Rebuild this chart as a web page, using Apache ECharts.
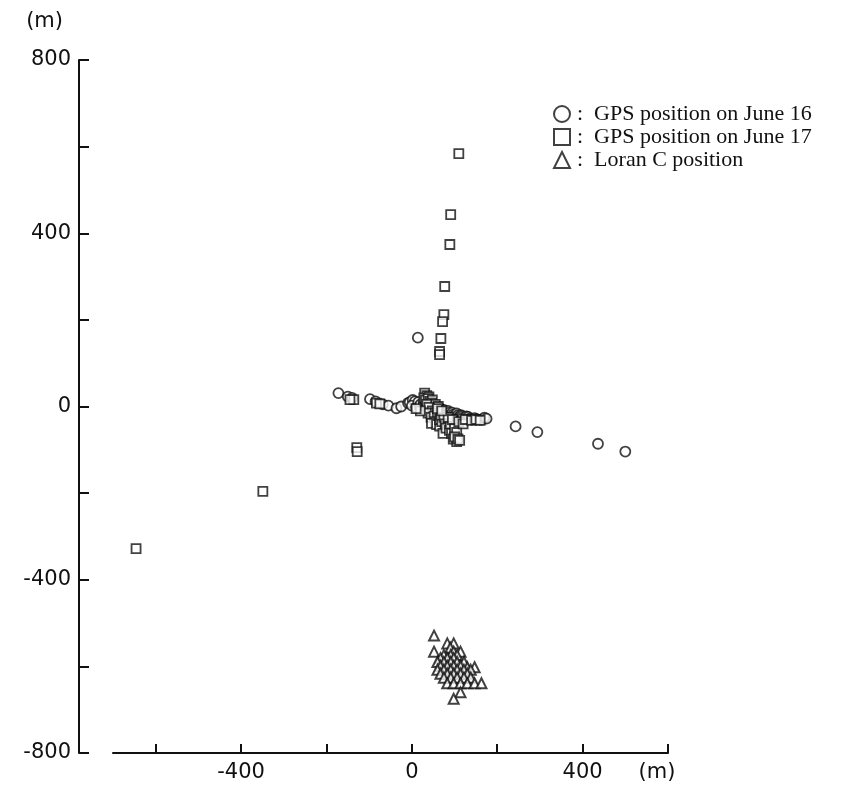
<!DOCTYPE html>
<html>
<head>
<meta charset="utf-8">
<script src="https://cdn.jsdelivr.net/npm/echarts@6/dist/echarts.min.js"></script>
<style>
html,body{margin:0;padding:0;background:#fff;}
#chart{width:842px;height:786px;}
</style>
</head>
<body>
<div id="chart"></div>
<script>
// ---- Data (metres) ----
const seriesNames = ["GPS position on June 16", "GPS position on June 17", "Loran C position"];

const gpsJune16 = [
  [-172,31],[-150,23],[-140,20],[-98,17],[-85,12],[-68,5],[-55,2],[-36,-4],[-25,0],[-9,8],
  [-5,10],[2,15],[7,12],[0,2],[10,-2],[15,10],[18,0],[20,5],[25,-5],[28,8],[32,0],[35,-3],
  [40,-8],[42,-12],[45,2],[48,-2],[50,-10],[55,-5],[58,-8],[60,-12],[62,-18],[65,-3],
  [68,-6],[70,-15],[75,-8],[78,-12],[80,-18],[83,-22],[85,-10],[88,-14],[90,-20],[93,-25],
  [95,-14],[98,-18],[100,-22],[105,-16],[108,-20],[110,-24],[112,-28],[115,-20],[118,-22],
  [120,-26],[125,-30],[128,-23],[132,-24],[135,-28],[140,-30],[147,-27],[152,-29],[159,-31],
  [165,-30],[170,-26],[175,-28],
  [243,-46],[294,-59],[436,-86],[500,-104],[14,159]
];

const gpsJune17 = [
  [-646,-328],[-349,-196],[-129,-95],[-128,-104],[-136,16],[-145,16],[-83,8],[-75,6],
  [110,584],[91,443],[89,374],[77,277],[75,212],[72,196],[68,157],[65,127],[65,120],
  [30,31],[35,25],[28,20],[32,15],[40,22],[38,18],[42,12],[48,15],[45,8],[50,2],[55,5],
  [62,0],[35,5],[40,-2],[48,-10],[38,-15],[45,-25],[55,-15],[52,-22],[60,-20],[55,-35],
  [46,-39],[58,-42],[65,-45],[65,-30],[70,-35],[68,-20],[75,-25],[78,-40],[85,-45],
  [73,-62],[80,-50],[88,-55],[90,-40],[93,-62],[100,-50],[105,-60],[97,-75],[105,-81],
  [100,-70],[108,-75],[112,-78],[85,-25],[95,-30],[110,-35],[120,-40],[125,-30],[140,-32],
  [150,-30],[160,-32],[60,-5],[70,-10],[20,-10],[10,-5]
];

const loranC = [
  [52,-529],
  [83,-547],[98,-547],
  [90,-557],
  [52,-566],[98,-566],[114,-566],
  [75,-574],[91,-574],[106,-574],
  [67,-581],[83,-581],[98,-581],
  [60,-590],[75,-590],[91,-590],[106,-590],[122,-590],
  [67,-599],[83,-599],[98,-599],[114,-599],[130,-602],[147,-602],
  [60,-608],[75,-608],[91,-608],[106,-608],[122,-608],[138,-608],
  [67,-617],[83,-617],[98,-617],[114,-617],[130,-617],
  [75,-626],[91,-626],[106,-626],[122,-626],[138,-626],
  [83,-639],[98,-639],[114,-639],[130,-639],[147,-639],[163,-639],
  [114,-660],[98,-675]
];

const xTicks = [-600,-400,-200,0,200,400,600];
const xTickLabels = [-400,0,400];
const yLabelStep = 400;

// ---- Chart ----
const chart = echarts.init(document.getElementById('chart'), null, {renderer:'canvas'});
const ink = '#111';
const labelFont = {fontFamily:'DejaVu Sans', fontSize:21, color:ink};
const markStyle = {color:'#fff', borderColor:ink, borderWidth:1.8};

chart.setOption({
  animation:false,
  backgroundColor:'#fff',
  grid:{left:113, right:174, top:60, bottom:33},
  legend:{
    orient:'vertical', left:553, top:103, padding:0,
    itemWidth:16, itemHeight:16, itemGap:1,
    textStyle:{fontFamily:'Liberation Serif', fontSize:22, color:ink, padding:[0,0,0,2]},
    formatter: n => ':  ' + n,
    data:[
      {name:seriesNames[0], icon:'circle'},
      {name:seriesNames[1], icon:'rect'},
      {name:seriesNames[2], icon:'triangle'}
    ]
  },
  xAxis:{
    type:'value', min:-700, max:600,
    splitLine:{show:false},
    axisLine:{show:true, onZero:false, lineStyle:{color:ink, width:2}},
    axisTick:{show:true, inside:true, length:9, customValues:xTicks, lineStyle:{color:ink, width:2}},
    axisLabel:Object.assign({margin:9, customValues:xTickLabels}, labelFont),
    name:'(m)', nameLocation:'end', nameGap:-11,
    nameTextStyle:Object.assign({align:'center', verticalAlign:'top', padding:[9,0,0,0]}, labelFont)
  },
  yAxis:{
    type:'value', min:-800, max:800, interval:200, offset:34,
    splitLine:{show:false},
    axisLine:{show:true, onZero:false, lineStyle:{color:ink, width:2}},
    axisTick:{show:true, inside:true, length:10, lineStyle:{color:ink, width:2}},
    axisLabel:Object.assign({margin:8, formatter: v => (v % yLabelStep === 0 ? String(v) : '')}, labelFont),
    name:'(m)', nameLocation:'end', nameGap:28,
    nameTextStyle:Object.assign({align:'right', padding:[0,16,0,0]}, labelFont)
  },
  series:[
    {name:seriesNames[0], type:'scatter', symbol:'circle', symbolSize:10, data:gpsJune16, itemStyle:markStyle, z:3},
    {name:seriesNames[1], type:'scatter', symbol:'rect', symbolSize:9, data:gpsJune17, itemStyle:markStyle, z:4},
    {name:seriesNames[2], type:'scatter', symbol:'triangle', symbolSize:10, data:loranC, itemStyle:Object.assign({}, markStyle, {borderWidth:2}), z:2}
  ]
});
</script>
</body>
</html>
